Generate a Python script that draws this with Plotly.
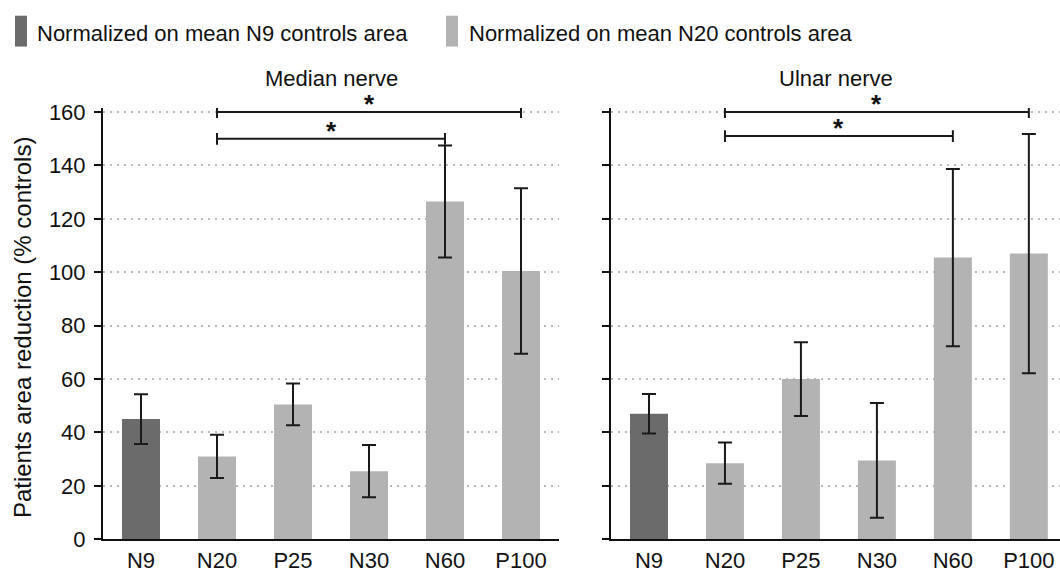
import plotly.graph_objects as go

# ---------------- data ----------------
categories = ["N9", "N20", "P25", "N30", "N60", "P100"]
normalization = ["N9", "N20", "N20", "N20", "N20", "N20"]

median_values = [45, 31, 50.5, 25.5, 126.5, 100.5]
median_errors = [9.3, 8.1, 7.8, 9.8, 21.0, 31.0]

ulnar_values = [47, 28.5, 60, 29.5, 105.5, 107]
ulnar_errors = [7.4, 7.7, 13.8, 21.5, 33.2, 44.8]

# significance brackets: (from, to, level)
median_brackets = [("N20", "P100", 160), ("N20", "N60", 150)]
ulnar_brackets = [("N20", "P100", 160), ("N20", "N60", 151)]

panel_titles = ["Median nerve", "Ulnar nerve"]
legend_labels = {"N9": "Normalized on mean N9 controls area",
                 "N20": "Normalized on mean N20 controls area"}
y_title = "Patients area reduction (% controls)"
y_ticks = [0, 20, 40, 60, 80, 100, 120, 140, 160]

# ---------------- styles ----------------
FONT = "Liberation Sans, Arial, Helvetica, sans-serif"
colors = {"N9": "#6b6b6b", "N20": "#b3b3b3"}
W, H = 1060, 585

fig = go.Figure()

panels = [
    ("x", "y", median_values, median_errors, median_brackets),
    ("x2", "y2", ulnar_values, ulnar_errors, ulnar_brackets),
]

for xa, ya, vals, errs, brackets in panels:
    fig.add_trace(go.Bar(
        x=categories, y=vals,
        xaxis=xa, yaxis=ya,
        width=0.5,
        marker=dict(color=[colors[n] for n in normalization], line=dict(width=0)),
        error_y=dict(type="data", array=errs, visible=True,
                     color="#1a1a1a", thickness=2, width=7),
        showlegend=False,
        hoverinfo="skip",
    ))
    for a, b, lvl in brackets:
        i0, i1 = categories.index(a), categories.index(b)
        line = dict(color="#1a1a1a", width=2)
        fig.add_shape(type="line", xref=xa, yref=ya, x0=i0, x1=i1, y0=lvl, y1=lvl, line=line)
        fig.add_shape(type="line", xref=xa, yref=ya, x0=i0, x1=i0, y0=lvl - 2.2, y1=lvl + 2.2, line=line)
        fig.add_shape(type="line", xref=xa, yref=ya, x0=i1, x1=i1, y0=lvl - 2.2, y1=lvl + 2.2, line=line)
        fig.add_annotation(xref=xa, yref=ya, x=(i0 + i1) / 2, y=lvl, text="<b>*</b>",
                           showarrow=False, yanchor="middle", yshift=8,
                           font=dict(size=26, color="#111", family=FONT))

dom1 = [103 / W, 559 / W]
dom2 = [611 / W, 1.0]
ydom = [(H - 551) / H, (H - 103.8) / H]

xcommon = dict(showline=True, linecolor="#111", linewidth=2, ticks="",
               tickfont=dict(size=22, color="#111", family=FONT),
               showgrid=False, zeroline=False, type="category")
ycommon = dict(range=[0, 161.5], tickvals=y_ticks, showline=True, linecolor="#111",
               linewidth=2, ticks="outside", ticklen=7, tickwidth=2, tickcolor="#111",
               showgrid=True, gridcolor="#b8b8b8", gridwidth=2, griddash="2px,5px",
               zeroline=False, tickfont=dict(size=22, color="#111", family=FONT))

fig.update_layout(
    width=W, height=H,
    margin=dict(l=0, r=0, t=0, b=0),
    paper_bgcolor="white", plot_bgcolor="white",
    font=dict(family=FONT, color="#111"),
    bargap=0.5,
    xaxis=dict(domain=dom1, range=[-0.5, 5.5], anchor="y", **xcommon),
    xaxis2=dict(domain=dom2, range=[-0.5, 5.41], anchor="y2", **xcommon),
    yaxis=dict(domain=ydom, anchor="x", ticklabelstandoff=4, **ycommon),
    yaxis2=dict(domain=ydom, anchor="x2", showticklabels=False, **ycommon),
)

# panel titles
for dom, title in zip([dom1, dom2], panel_titles):
    fig.add_annotation(xref="paper", yref="paper", x=(dom[0] + dom[1]) / 2, y=(H - 73) / H,
                       text=title, showarrow=False, xanchor="center", yanchor="middle",
                       font=dict(size=22, color="#111", family=FONT))

# y axis title
fig.add_annotation(xref="paper", yref="paper", x=22 / W, y=(H - 331) / H, text=y_title,
                   textangle=-90, showarrow=False, xanchor="center", yanchor="middle",
                   font=dict(size=24, color="#111", family=FONT))

# legend (swatches + labels)
legend_pos = {"N9": (15, 35), "N20": (446, 467)}
for key, (sx, tx) in legend_pos.items():
    fig.add_shape(type="rect", xref="paper", yref="paper",
                  x0=sx / W, x1=(sx + 12) / W, y0=(H - 40) / H, y1=(H - 8) / H,
                  fillcolor=colors[key], line=dict(width=0))
    fig.add_annotation(xref="paper", yref="paper", x=tx / W, y=(H - 26) / H,
                       text=legend_labels[key], showarrow=False, xanchor="left", yanchor="middle",
                       font=dict(size=22, color="#111", family=FONT))

fig.write_html("out.html", config={"displayModeBar": False},
               post_script="document.body.style.margin='0';document.body.style.overflow='hidden';")
